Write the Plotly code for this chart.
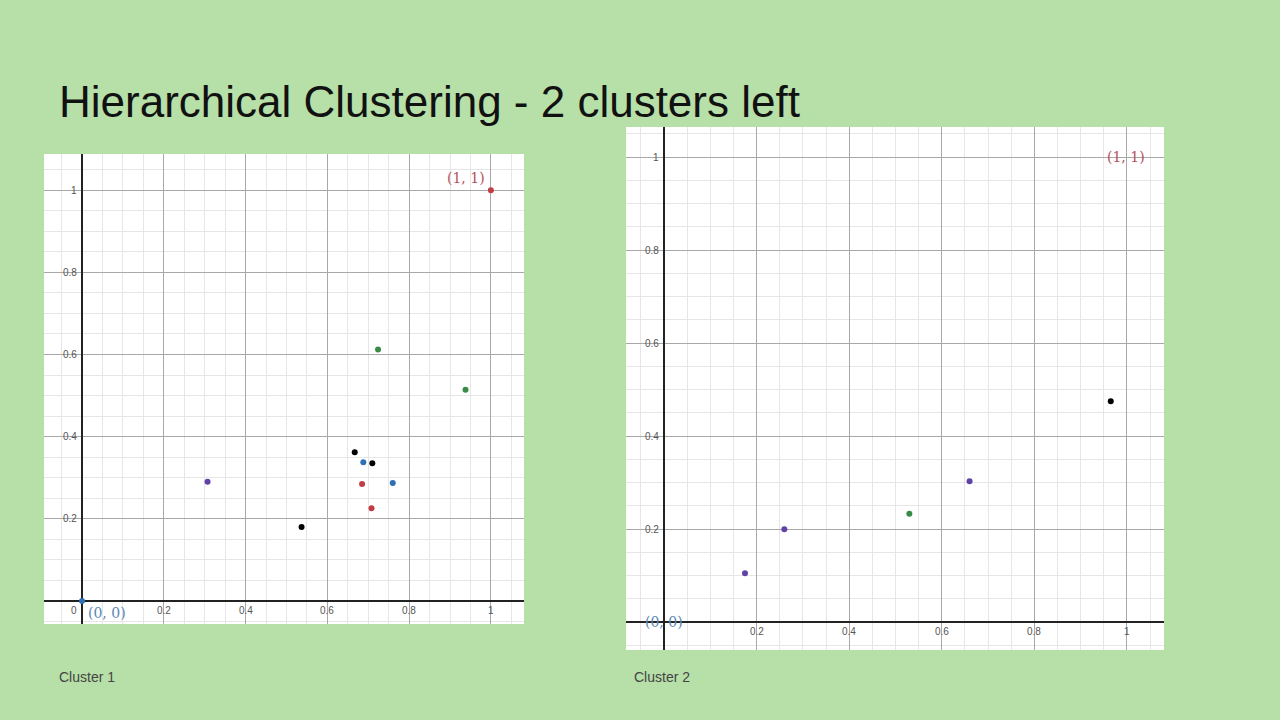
import plotly.graph_objects as go

RED, BLUE, GREEN, PURPLE, BLACK = "#c23c45", "#2d70b3", "#388c46", "#6042a6", "#000000"
LRED = "#b5525c"

# Cluster 1 points
c1_x = [0, 1, 0.307, 0.537, 0.667, 0.710, 0.688, 0.760, 0.685, 0.708, 0.724, 0.938]
c1_y = [0, 1, 0.290, 0.180, 0.362, 0.335, 0.338, 0.287, 0.285, 0.226, 0.612, 0.514]
c1_c = [BLUE, RED, PURPLE, BLACK, BLACK, BLACK, BLUE, BLUE, RED, RED, GREEN, GREEN]
# Cluster 2 points
c2_x = [0.175, 0.260, 0.660, 0.530, 0.965]
c2_y = [0.105, 0.200, 0.303, 0.233, 0.475]
c2_c = [PURPLE, PURPLE, PURPLE, GREEN, BLACK]

ticks = [0.2, 0.4, 0.6, 0.8, 1]
tick_text = ["0.2", "0.4", "0.6", "0.8", "1"]

fig = go.Figure()
fig.add_trace(go.Scatter(x=c1_x, y=c1_y, mode="markers", marker=dict(color=c1_c, size=6),
                         xaxis="x", yaxis="y", showlegend=False, hoverinfo="skip"))
fig.add_trace(go.Scatter(x=c2_x, y=c2_y, mode="markers", marker=dict(color=c2_c, size=6),
                         xaxis="x2", yaxis="y2", showlegend=False, hoverinfo="skip"))

def ax(rng, dom, anchor):
    return dict(range=rng, domain=dom, anchor=anchor, showgrid=True, gridcolor="#a8a8a8", gridwidth=1,
                tick0=0, dtick=0.2, showticklabels=False, zeroline=True, zerolinecolor="#222",
                zerolinewidth=1.5, minor=dict(showgrid=True, dtick=0.05, gridcolor="#e6e6e6", gridwidth=1),
                showline=False, fixedrange=True)

W, H = 1280, 720
fig.update_layout(
    width=W, height=H, paper_bgcolor="#b7dfa8", plot_bgcolor="#ffffff",
    margin=dict(l=0, r=0, t=0, b=0),
    xaxis=ax([-0.093, 1.081], [44/W, 524/W], "y"),
    yaxis=ax([-0.056, 1.088], [1-624/H, 1-154/H], "x"),
    xaxis2=ax([-0.082, 1.08], [626/W, 1164/W], "y2"),
    yaxis2=ax([-0.060, 1.065], [1-650/H, 1-127/H], "x2"),
)

ann = []
tf = dict(family="Liberation Sans", size=10, color="#555")
for xr, yr in [("x", "y"), ("x2", "y2")]:
    for t, s in zip(ticks, tick_text):
        ann.append(dict(x=t, y=0, xref=xr, yref=yr, text=s, showarrow=False, yanchor="top", yshift=-2, font=tf))
        ann.append(dict(x=0, y=t, xref=xr, yref=yr, text=s, showarrow=False, xanchor="right", xshift=-3, font=tf))
ann.append(dict(x=0, y=0, xref="x", yref="y", text="0", showarrow=False, xanchor="right", yanchor="top",
                xshift=-3, yshift=-2, font=tf))
mf = dict(family="DejaVu Serif", size=14)
ann += [
    dict(x=1, y=1, xref="x", yref="y", text="(1, 1)", showarrow=False, xanchor="right", yanchor="bottom",
         xshift=-4, yshift=2, font=dict(mf, color=LRED)),
    dict(x=0, y=0, xref="x", yref="y", text="(0, 0)", showarrow=False, xanchor="left", yanchor="top",
         xshift=4, yshift=-2, font=dict(mf, color="#5a87b3")),
    dict(x=1, y=1, xref="x2", yref="y2", text="(1, 1)", showarrow=False, xanchor="left", yanchor="middle",
         xshift=-22, font=dict(mf, color=LRED)),
    dict(x=0, y=0, xref="x2", yref="y2", text="(0, 0)", showarrow=False, xanchor="center", yanchor="middle",
         font=dict(mf, color="#5a87b3")),
    dict(x=57/W, y=1-102/H, xref="paper", yref="paper", text="Hierarchical Clustering - 2 clusters left",
         showarrow=False, xanchor="left", yanchor="middle", font=dict(family="Liberation Sans", size=44, color="#111")),
    dict(x=57/W, y=1-677/H, xref="paper", yref="paper", text="Cluster 1", showarrow=False,
         xanchor="left", yanchor="middle", font=dict(family="Liberation Sans", size=14, color="#444")),
    dict(x=632/W, y=1-677/H, xref="paper", yref="paper", text="Cluster 2", showarrow=False,
         xanchor="left", yanchor="middle", font=dict(family="Liberation Sans", size=14, color="#444")),
]
fig.update_layout(annotations=ann)
fig.write_html("out.html", config={"displayModeBar": False},
               post_script="document.body.style.margin='0';document.body.style.overflow='hidden';")
